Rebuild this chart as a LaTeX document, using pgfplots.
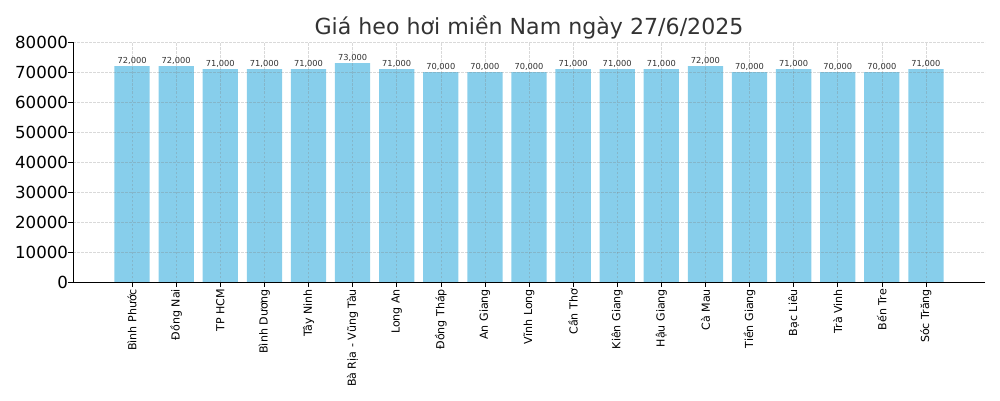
\documentclass[border=0pt]{standalone}
\usepackage{fontspec}
\setmainfont{DejaVu Sans}
\usepackage{pgfplots}
\pgfplotsset{compat=1.18}
\definecolor{barblue}{HTML}{87CEEB}
\definecolor{titlegray}{HTML}{333333}

\begin{document}
\begin{tikzpicture}[x=1bp,y=1bp]
\path (0,0) rectangle (1000,400);
\begin{axis}[
  at={(73bp,118bp)}, anchor=south west,
  scale only axis, width=912bp, height=240bp,
  ybar, bar width=0.8,
  xmin=-1.34, xmax=19.34,
  ymin=0, ymax=80000,
  ytick={0,10000,...,80000},
  xtick={0,...,18},
  xticklabels={Bình Phước,Đồng Nai,TP HCM,Bình Dương,Tây Ninh,Bà Rịa - Vũng Tàu,Long An,Đồng Tháp,An Giang,Vĩnh Long,Cần Thơ,Kiên Giang,Hậu Giang,Cà Mau,Tiền Giang,Bạc Liêu,Trà Vinh,Bến Tre,Sóc Trăng},
  x tick label style={rotate=90, anchor=east, font=\fontsize{11.1}{13}\selectfont, inner sep=2bp},
  y tick label style={font=\fontsize{16.7}{18}\selectfont, /pgf/number format/1000 sep={}, xshift=3.5bp},
  /pgf/number format/assume math mode=true,
  scaled y ticks=false,
  axis lines*=left,
  tick align=outside,
  major tick length=4.9bp,
  tick style={black, line width=0.6bp},
  axis line style={black, line width=0.8bp},
  grid=major,
  major grid style={dashed, gray, opacity=0.3, line width=0.5bp, dash pattern=on 2.5bp off 1.5bp},
  axis on top,
  title={Giá heo hơi miền Nam ngày 27/6/2025},
  title style={font=\fontsize{22.2}{26}\selectfont, text=titlegray, at={(0.5,1)}, anchor=south, yshift=-7bp},
  nodes near coords={\pgfmathprintnumber[fixed,precision=0,1000 sep={,}]{\pgfplotspointmeta}},
  nodes near coords style={font=\fontsize{8.3}{10}\selectfont, text=titlegray, anchor=south, inner sep=1bp, yshift=0bp},
]
\addplot[fill=barblue, draw=none] coordinates {
  (0,72000) (1,72000) (2,71000) (3,71000) (4,71000) (5,73000) (6,71000)
  (7,70000) (8,70000) (9,70000) (10,71000) (11,71000) (12,71000) (13,72000)
  (14,70000) (15,71000) (16,70000) (17,70000) (18,71000)
};
\end{axis}
\end{tikzpicture}
\end{document}
